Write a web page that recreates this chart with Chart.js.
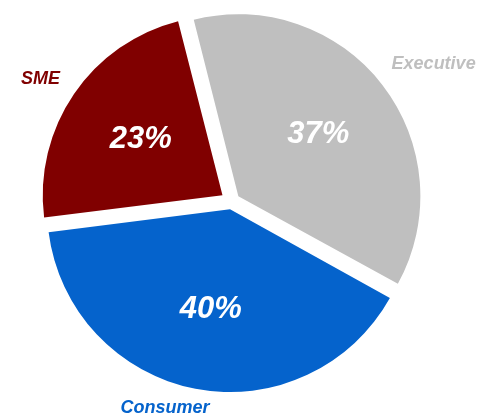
<!DOCTYPE html>
<html>
<head>
<meta charset="utf-8">
<script src="https://cdn.jsdelivr.net/npm/chart.js@4.4.1/dist/chart.umd.min.js"></script>
<style>
    html, body { margin: 0; padding: 0; background: #fff; }
    #wrap { position: relative; width: 482px; height: 418px; }
</style>
</head>
<body>
<div id="wrap"><canvas id="segmentChart"></canvas></div>
<script>
const segments = ['Executive', 'Consumer', 'SME'];
const shares = [37, 40, 23];
const percentLabels = ['37%', '40%', '23%'];
const sliceColors = ['#BFBFBF', '#0563CC', '#800000'];

// explode every slice by the same distance (~11px); Chart.js scales offset by arc size
const explode = 11;
function offsetFor(ctx) {
    const total = shares.reduce((a, b) => a + b, 0);
    const circ = shares[ctx.dataIndex] / total * Math.PI * 2;
    const fix = 1 - Math.sin(Math.min(Math.PI, circ));
    return explode * 4 / (1 + fix);
}

// where the outside category names sit: angle nudge (deg) and distance (x radius)
const nameSpots = [
    { turn: 3.6, dist: 1.30 },
    { turn: 7.3, dist: 1.147 },
    { turn: -1.8, dist: 1.20 }
];

const sliceLabels = {
    id: 'sliceLabels',
    afterDatasetsDraw(chart) {
        const ctx = chart.ctx;
        const arcs = chart.getDatasetMeta(0).data;
        ctx.save();
        ctx.textAlign = 'center';
        ctx.textBaseline = 'middle';
        arcs.forEach((arc, i) => {
            const mid = (arc.startAngle + arc.endAngle) / 2;
            const circ = arc.endAngle - arc.startAngle;
            const fix = 1 - Math.sin(Math.min(Math.PI, circ));
            const shift = (arc.options.offset || 0) / 4 * (1 + fix);
            const ax = arc.x + Math.cos(mid) * shift;
            const ay = arc.y + Math.sin(mid) * shift;
            const r = arc.outerRadius;

            // percentage inside the slice
            ctx.fillStyle = '#FFFFFF';
            ctx.font = 'italic bold 31px "Liberation Sans", Arial, sans-serif';
            ctx.fillText(percentLabels[i], ax + Math.cos(mid) * r * 0.55, ay + Math.sin(mid) * r * 0.55);

            // category name outside
            const spot = nameSpots[i];
            const a = mid + spot.turn * Math.PI / 180;
            ctx.fillStyle = sliceColors[i];
            ctx.font = 'italic bold 18px "Liberation Sans", Arial, sans-serif';
            ctx.fillText(segments[i], ax + Math.cos(a) * r * spot.dist, ay + Math.sin(a) * r * spot.dist);
        });
        ctx.restore();
    }
};

const segmentChart = new Chart(document.getElementById('segmentChart').getContext('2d'), {
    type: 'pie',
    data: {
        labels: segments,
        datasets: [{
            data: shares,
            backgroundColor: sliceColors,
            borderWidth: 0,
            offset: offsetFor,
            hoverOffset: 0
        }]
    },
    options: {
        responsive: true,
        maintainAspectRatio: false,
        animation: false,
        rotation: -14.3,
        layout: {
            padding: { top: -7, bottom: 15, left: 0, right: 19 }
        },
        plugins: {
            legend: { display: false },
            tooltip: { enabled: false }
        }
    },
    plugins: [sliceLabels]
});
</script>
</body>
</html>
